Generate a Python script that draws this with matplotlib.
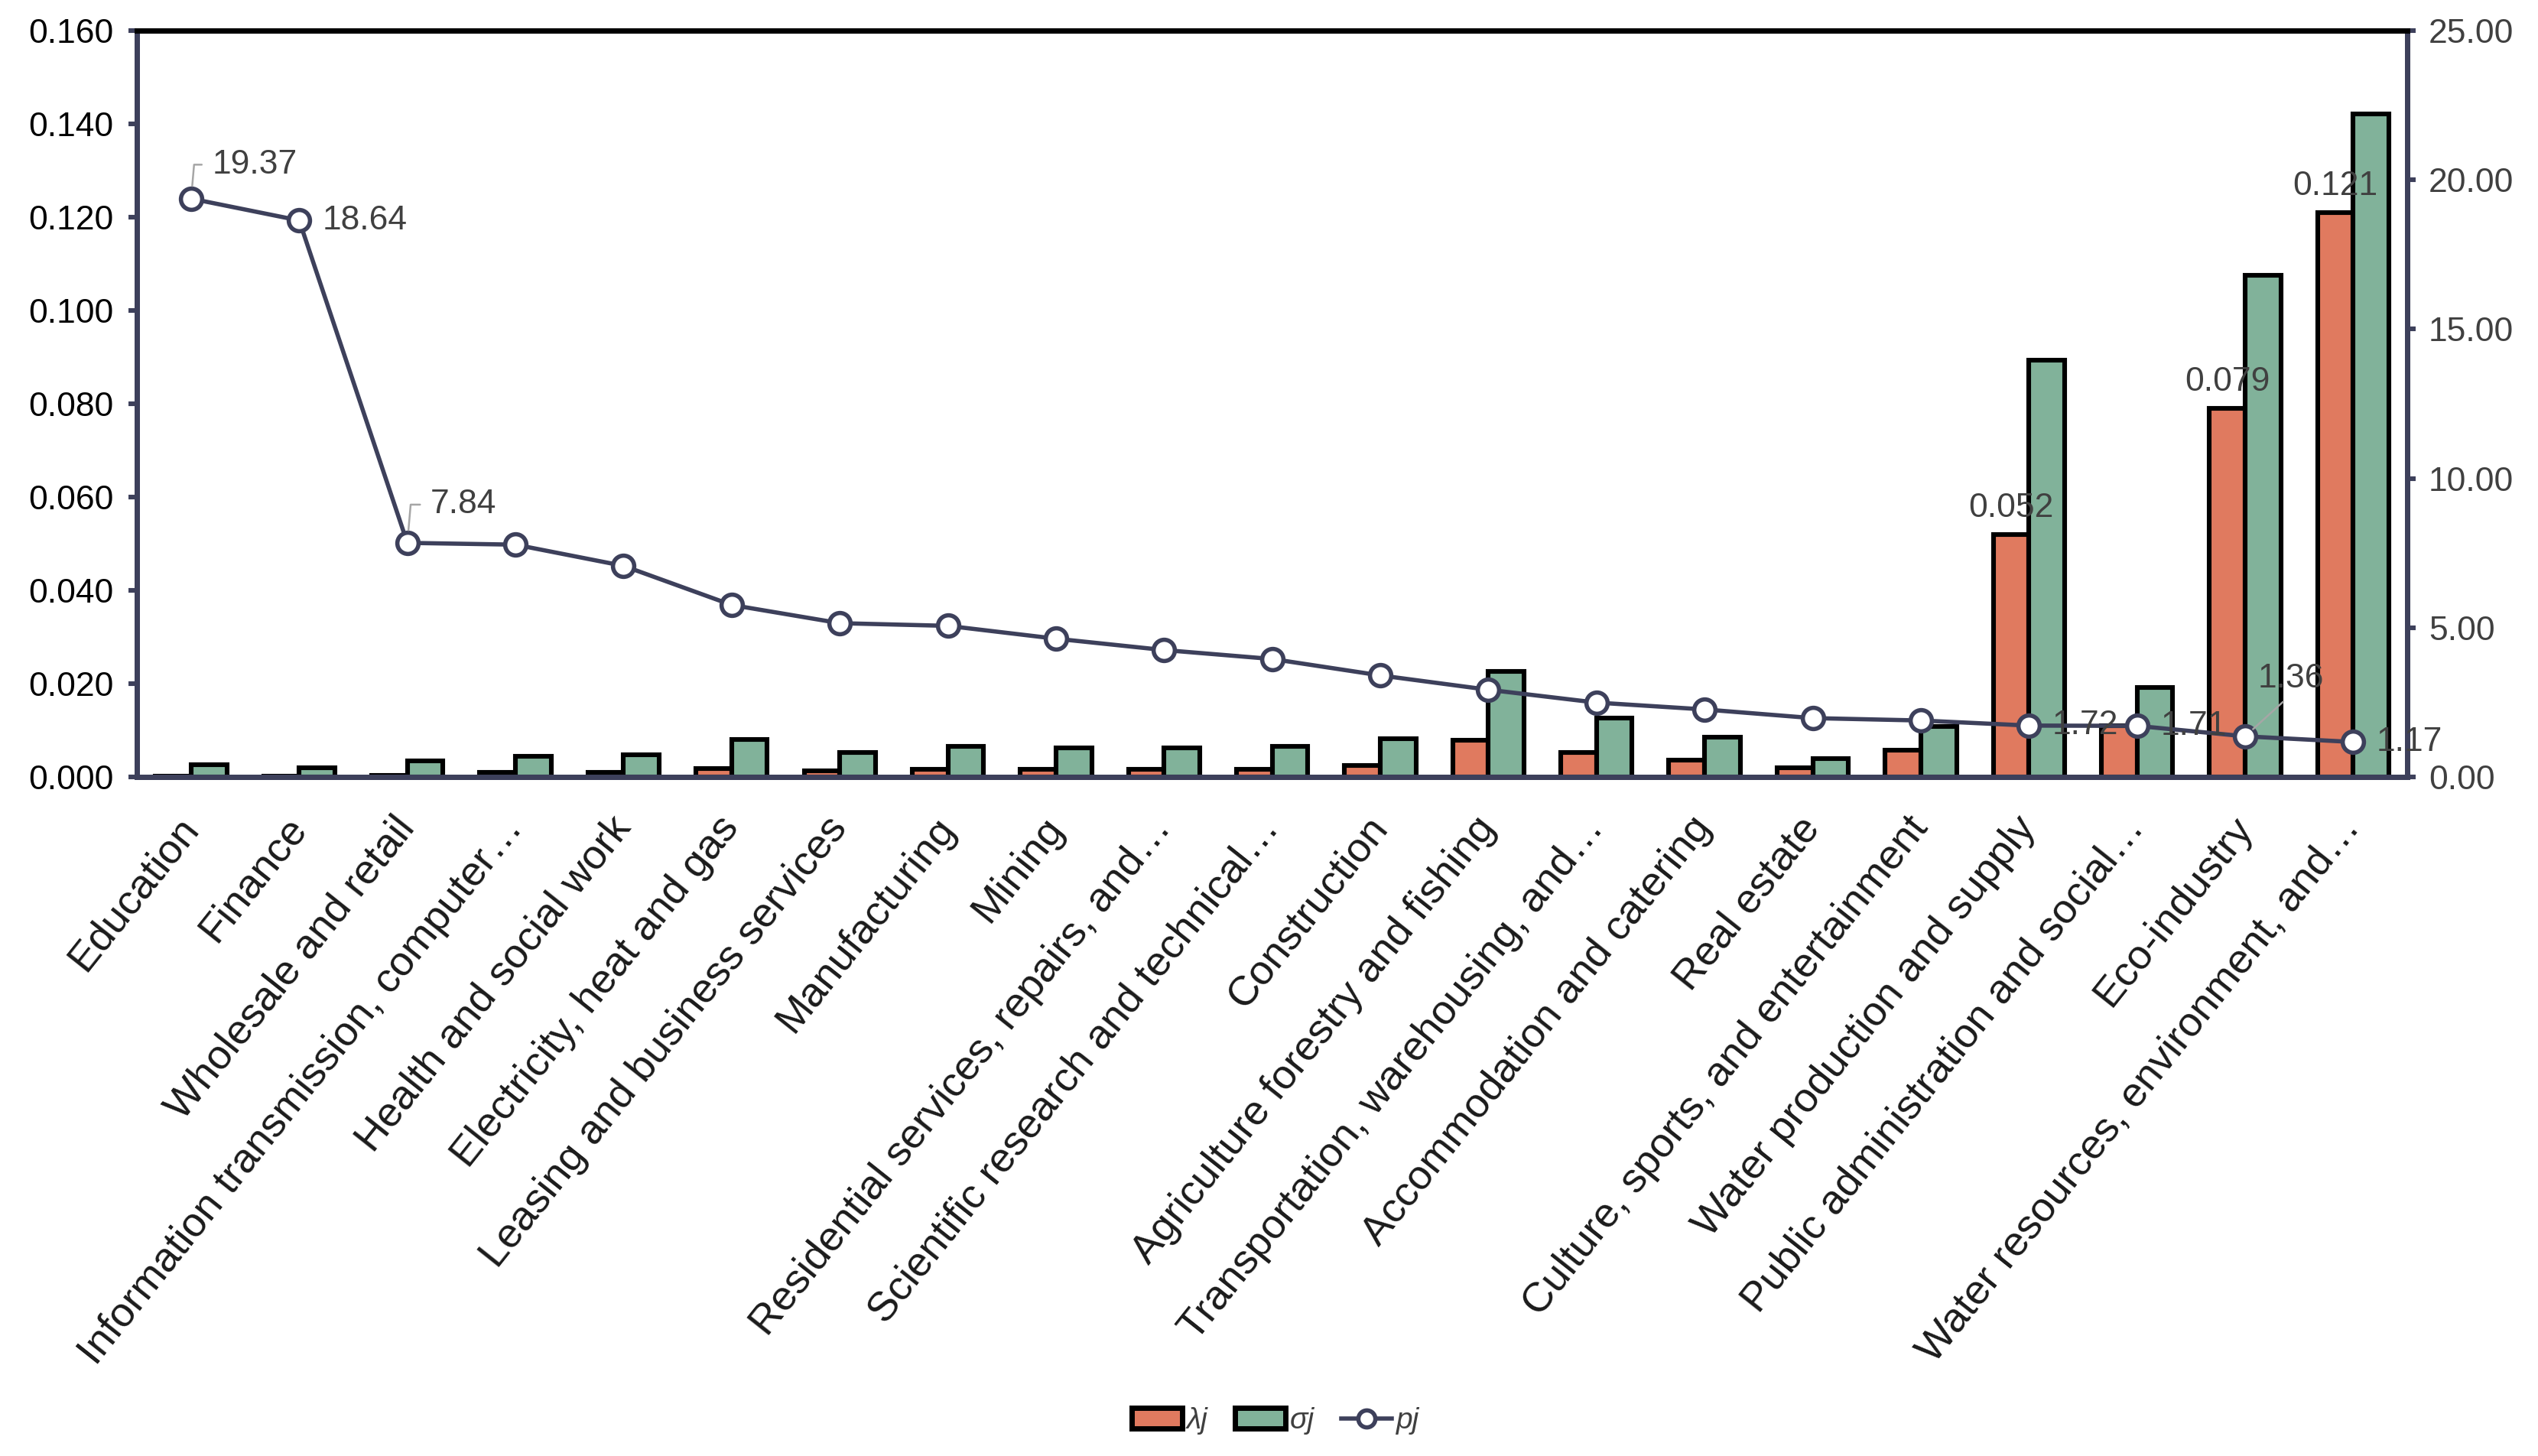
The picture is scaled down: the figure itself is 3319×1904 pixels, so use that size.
import matplotlib
matplotlib.use('Agg')
import matplotlib.pyplot as plt
from matplotlib import rcParams
from matplotlib.lines import Line2D
from matplotlib.patches import Patch
from matplotlib.transforms import ScaledTranslation
import numpy as np

rcParams['font.family'] = ['Liberation Sans', 'DejaVu Sans']

categories = [
    'Education', 'Finance', 'Wholesale and retail',
    'Information transmission, computer…', 'Health and social work',
    'Electricity, heat and gas', 'Leasing and business services',
    'Manufacturing', 'Mining', 'Residential services, repairs, and…',
    'Scientific research and technical…', 'Construction',
    'Agriculture forestry and fishing', 'Transportation, warehousing, and…',
    'Accommodation and catering', 'Real estate',
    'Culture, sports, and entertainment', 'Water production and supply',
    'Public administration and social…', 'Eco-industry',
    'Water resources, environment, and…',
]
lambda_j = [0.0002, 0.0002, 0.0003, 0.0009, 0.0009, 0.0018, 0.0013,
            0.0016, 0.0016, 0.0016, 0.0016, 0.0024, 0.0079, 0.0052,
            0.0036, 0.0020, 0.0058, 0.052, 0.011, 0.079, 0.121]
sigma_j = [0.0027, 0.0020, 0.0035, 0.0044, 0.0048, 0.0081, 0.0052,
           0.0066, 0.0063, 0.0063, 0.0066, 0.0082, 0.0227, 0.0126,
           0.0086, 0.0040, 0.0108, 0.0893, 0.0192, 0.1075, 0.1421]
p_j = [19.37, 18.64, 7.84, 7.78, 7.07, 5.76, 5.15, 5.06, 4.63, 4.25,
       3.95, 3.40, 2.92, 2.49, 2.26, 1.97, 1.89, 1.72, 1.71, 1.36, 1.17]

# which points get a value label: index -> (dx, dy, leader)
p_labels = {0: (10, 16, 'angle'), 1: (11, 0, None), 2: (11, 18, 'angle'),
            17: (11, 0, None), 18: (11, 0, None), 19: (6, 27, 'straight'),
            20: (11, 0, None)}
bar_labels = [17, 19, 20]

ORANGE = '#E07A5F'
GREEN = '#81B29A'
NAVY = '#3D405B'
LABEL = '#404040'

fig = plt.figure(figsize=(16.595, 9.52), dpi=200)
ax = fig.add_axes([0.054, 0.4664, 0.8945, 0.5126])
ax2 = ax.twinx()

x = np.arange(len(categories))
w = 0.33
ax.bar(x - w / 2, lambda_j, w, color=ORANGE, edgecolor='black', linewidth=2.2, zorder=2)
ax.bar(x + w / 2, sigma_j, w, color=GREEN, edgecolor='black', linewidth=2.2, zorder=2)
for i in bar_labels:
    ax.annotate(f'{lambda_j[i]:.3f}', (x[i] - w / 2, lambda_j[i]), xytext=(0, 5),
                textcoords='offset points', ha='center', va='bottom',
                fontsize=16, color=LABEL, zorder=5)

ax2.plot(x, p_j, color=NAVY, lw=2, marker='o', ms=10, mfc='white',
         mec=NAVY, mew=2, zorder=4)
for i, (dx, dy, leader) in p_labels.items():
    kw = {}
    if leader == 'angle':
        kw['arrowprops'] = dict(arrowstyle='-', color='#a6a6a6', lw=0.9,
                                shrinkA=3, shrinkB=6, relpos=(0, 0.5),
                                connectionstyle='angle,angleA=0,angleB=85,rad=0')
    elif leader == 'straight':
        kw['arrowprops'] = dict(arrowstyle='-', color='#a6a6a6', lw=0.9,
                                shrinkA=2, shrinkB=5, relpos=(0.5, 0))
    ax2.annotate(f'{p_j[i]:.2f}', (x[i], p_j[i]), xytext=(dx, dy),
                 textcoords='offset points', ha='left', va='center',
                 fontsize=16, color=LABEL, zorder=6, **kw)

ax.set_xlim(-0.5, len(categories) - 0.5)
ax.set_ylim(0, 0.16)
ax2.set_ylim(0, 25)
ax.set_yticks(np.arange(0, 0.161, 0.02))
ax2.set_yticks(np.arange(0, 25.1, 5))
ax.set_yticklabels([f'{v:.3f}' for v in np.arange(0, 0.161, 0.02)], fontsize=16, color='black')
ax2.set_yticklabels([f'{v:.2f}' for v in np.arange(0, 25.1, 5)], fontsize=16, color=LABEL)
ax.set_xticks(x)
ax.set_xticklabels(categories, rotation=51.5, ha='right', va='center',
                   rotation_mode='anchor', fontsize=19.5, color='#1a1a1a')
shift = ScaledTranslation(7 / 72, 0, fig.dpi_scale_trans)
for lbl in ax.get_xticklabels():
    lbl.set_transform(lbl.get_transform() + shift)
ax.tick_params(axis='x', length=0, pad=21)
ax.tick_params(axis='y', length=4, width=2.2, color=NAVY, pad=7)
ax2.tick_params(axis='y', length=4, width=2.2, color=NAVY, pad=6)

for a in (ax, ax2):
    for s in ('left', 'right', 'bottom'):
        a.spines[s].set_color(NAVY)
        a.spines[s].set_linewidth(2.5)
    a.spines['top'].set_color('black')
    a.spines['top'].set_linewidth(2.5)

handles = [
    Patch(facecolor=ORANGE, edgecolor='black', linewidth=2.5, label='λj'),
    Patch(facecolor=GREEN, edgecolor='black', linewidth=2.5, label='σj'),
    Line2D([], [], color=NAVY, lw=2, marker='o', ms=8, mfc='white', mec=NAVY,
           mew=2, label='pj'),
]
leg = fig.legend(handles=handles, loc='center', bbox_to_anchor=(0.5025, 0.024),
                 ncol=3, frameon=False, fontsize=14, handlelength=1.7,
                 handleheight=0.7, handletextpad=0.15, columnspacing=0.9)
for t in leg.get_texts():
    t.set_fontstyle('italic')
    t.set_color(LABEL)

fig.savefig('out.png', dpi=200)
